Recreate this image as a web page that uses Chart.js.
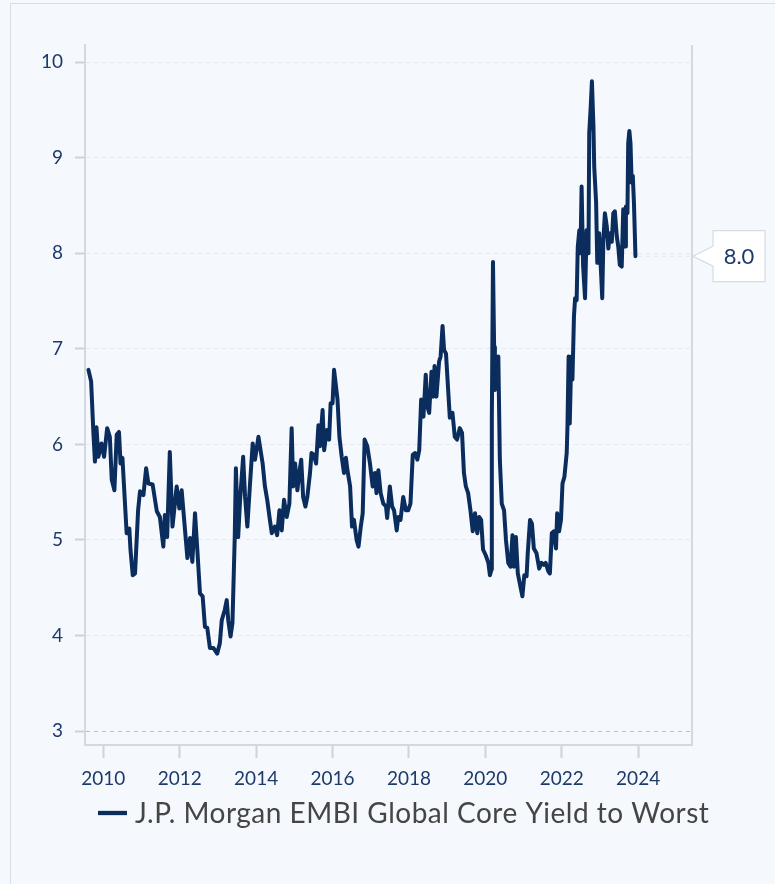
<!DOCTYPE html>
<html><head><meta charset="utf-8">
<script src="https://cdn.jsdelivr.net/npm/chart.js@4.4.1/dist/chart.umd.min.js"></script>
<style>
html,body{margin:0;padding:0;background:#f5f9fd;width:775px;height:884px;overflow:hidden}
#frame{position:absolute;left:10px;top:3px;width:800px;height:900px;border:1px solid #d8dee6;box-sizing:border-box}
#wrap{position:absolute;left:0;top:0;width:775px;height:884px}
</style></head><body>
<div id="frame"></div>
<div id="wrap"><canvas id="c" width="775" height="884"></canvas></div>
<script>
const seriesLabel = 'J.P. Morgan EMBI Global Core Yield to Worst';
const xTickValues = [2010, 2012, 2014, 2016, 2018, 2020, 2022, 2024];
const yTickValues = [3, 4, 5, 6, 7, 8, 9, 10];
const years = [
2009.61,2009.68,2009.74,2009.78,2009.82,2009.87,2009.95,2010.02,2010.10,2010.17,2010.22,2010.29,2010.35,2010.41,2010.45,2010.50,
2010.61,2010.68,2010.71,2010.77,2010.83,2010.91,2010.96,2011.05,2011.12,2011.18,2011.29,2011.40,2011.48,2011.57,2011.61,2011.67,
2011.74,2011.81,2011.92,2011.99,2012.05,2012.16,2012.20,2012.27,2012.33,2012.40,2012.46,2012.53,2012.60,2012.66,2012.72,2012.79,
2012.88,2012.98,2013.05,2013.10,2013.18,2013.23,2013.27,2013.33,2013.38,2013.44,2013.47,2013.53,2013.58,2013.66,2013.71,2013.77,
2013.84,2013.91,2013.97,2014.06,
2014.17,2014.23,2014.29,2014.36,2014.41,2014.49,2014.55,2014.61,2014.67,2014.73,2014.80,2014.87,2014.93,2014.97,2015.02,2015.08,
2015.13,2015.18,2015.23,2015.29,2015.34,2015.41,2015.45,2015.51,2015.57,2015.63,2015.67,2015.74,2015.78,2015.85,2015.91,2015.95,
2016.00,2016.04,2016.09,2016.13,2016.18,2016.24,2016.30,2016.35,2016.39,2016.46,2016.51,2016.56,2016.63,2016.68,2016.74,2016.79,
2016.84,2016.91,2016.98,2017.05,2017.11,2017.15,2017.20,2017.26,2017.33,2017.40,2017.43,2017.50,2017.56,2017.61,2017.68,2017.72,
2017.78,2017.85,2017.92,2017.98,2018.04,2018.10,2018.16,2018.22,2018.27,2018.32,2018.38,2018.44,2018.48,2018.53,2018.59,2018.64,
2018.67,2018.72,2018.79,2018.83,2018.88,2018.92,2018.97,
2019.03,2019.07,2019.14,2019.20,2019.26,2019.33,2019.39,2019.44,2019.49,2019.55,2019.61,2019.67,2019.73,2019.79,2019.84,2019.89,
2019.94,2020.01,2020.08,2020.12,2020.16,2020.17,2020.20,2020.23,2020.25,2020.29,2020.34,2020.38,2020.43,2020.49,2020.54,2020.60,
2020.66,2020.71,2020.75,2020.80,2020.85,2020.92,2020.97,2021.02,2021.08,2021.11,2021.17,2021.22,2021.27,2021.34,2021.41,2021.47,
2021.53,2021.58,2021.65,2021.69,2021.74,2021.79,2021.85,2021.88,2021.93,2021.98,2022.02,2022.07,2022.13,2022.15,2022.18,2022.21,
2022.25,2022.28,
2022.32,2022.35,2022.39,2022.42,2022.46,2022.49,2022.52,2022.56,2022.61,2022.65,2022.70,2022.72,2022.76,2022.79,2022.83,2022.85,
2022.90,2022.93,2022.98,2023.03,2023.06,2023.09,2023.13,2023.18,2023.22,2023.26,2023.31,2023.35,2023.39,2023.44,2023.48,2023.52,
2023.57,2023.61,2023.66,2023.68,2023.72,2023.74,2023.77,2023.80,2023.83,2023.86,2023.89,2023.93
];
const yields = [
6.78,6.66,6.12,5.82,6.18,5.87,6.01,5.87,6.17,6.08,5.63,5.52,6.10,6.13,5.80,5.86,
5.07,5.12,4.90,4.63,4.65,5.31,5.51,5.47,5.75,5.59,5.58,5.30,5.24,4.93,5.26,5.03,
5.92,5.14,5.56,5.33,5.52,5.00,4.81,5.02,4.77,5.28,4.90,4.44,4.41,4.09,4.08,3.87,
3.87,3.81,3.92,4.16,4.27,4.37,4.16,3.99,4.13,5.03,5.75,5.03,5.42,5.87,5.45,5.14,
5.59,6.01,5.84,6.08,
5.80,5.56,5.42,5.21,5.07,5.14,5.05,5.31,5.10,5.42,5.24,5.38,6.17,5.56,5.80,5.52,
5.70,5.84,5.45,5.35,5.45,5.70,5.91,5.89,5.80,6.20,5.98,6.36,5.94,6.15,6.05,6.43,
6.43,6.78,6.61,6.47,6.08,5.87,5.70,5.86,5.73,5.56,5.14,5.21,5.00,4.93,5.14,5.28,
6.05,5.98,5.80,5.56,5.70,5.49,5.73,5.49,5.38,5.35,5.23,5.56,5.35,5.31,5.10,5.24,
5.21,5.45,5.31,5.31,5.38,5.89,5.91,5.84,5.94,6.47,6.29,6.73,6.40,6.33,6.76,6.50,
6.82,6.50,6.87,6.92,7.24,6.99,6.95,
6.55,6.28,6.33,6.08,6.05,6.17,6.12,5.70,5.56,5.49,5.31,5.09,5.28,5.07,5.24,5.21,
4.90,4.84,4.76,4.63,4.69,6.26,7.91,7.02,6.57,6.88,6.92,5.84,5.38,5.31,5.00,4.76,
4.72,5.05,4.72,5.03,4.65,4.51,4.41,4.63,4.62,4.86,5.21,5.17,4.91,4.86,4.70,4.76,
4.74,4.76,4.67,4.65,5.07,5.09,4.91,5.28,5.09,5.21,5.59,5.66,5.91,6.19,6.92,6.22,
6.92,6.68,
7.34,7.53,7.51,8.07,8.24,8.00,8.70,7.86,7.53,8.24,8.00,9.26,9.54,9.80,9.33,8.91,
8.53,7.90,8.21,7.79,7.53,8.14,8.42,8.28,8.05,8.21,8.12,8.42,8.44,8.18,8.07,7.88,
7.86,8.46,8.07,8.49,8.42,9.15,9.28,9.15,8.74,8.81,8.53,7.97
];

const NAVY = '#0b2d5e';
const TICKCOL = '#1d3a6a';
const FONT = 'Lato, "Noto Sans", sans-serif';

const extras = {
  id: 'extras',
  afterDatasetsDraw(chart) {
    const ctx = chart.ctx, a = chart.chartArea;
    ctx.save();
    ctx.strokeStyle = '#d3d9e0'; ctx.lineWidth = 2;
    ctx.beginPath(); ctx.moveTo(a.right, a.top); ctx.lineTo(a.right, a.bottom); ctx.stroke();
    const meta = chart.getDatasetMeta(0);
    const last = meta.data[meta.data.length - 1];
    const v = yields[yields.length - 1];
    const y = chart.scales.y.getPixelForValue(v);
    ctx.strokeStyle = '#dde3ea'; ctx.lineWidth = 1; ctx.setLineDash([4, 4]);
    ctx.beginPath(); ctx.moveTo(last.x + 3, y); ctx.lineTo(a.right, y); ctx.stroke();
    ctx.setLineDash([]);
    const tipX = a.right + 1, bx = a.right + 21, bw = 52, bh = 51;
    ctx.beginPath();
    ctx.moveTo(tipX, y);
    ctx.lineTo(bx, y - 10);
    ctx.lineTo(bx, y - bh / 2);
    ctx.lineTo(bx + bw, y - bh / 2);
    ctx.lineTo(bx + bw, y + bh / 2);
    ctx.lineTo(bx, y + bh / 2);
    ctx.lineTo(bx, y + 10);
    ctx.closePath();
    ctx.fillStyle = '#ffffff'; ctx.fill();
    ctx.strokeStyle = '#d3dbe4'; ctx.lineWidth = 1.2; ctx.stroke();
    ctx.fillStyle = TICKCOL; ctx.font = '22px ' + FONT;
    ctx.textAlign = 'center'; ctx.textBaseline = 'middle';
    ctx.fillText(v.toFixed(1), bx + bw / 2, y + 1);
    ctx.restore();
  },
  afterDraw(chart) {
    const ctx = chart.ctx;
    ctx.save();
    ctx.strokeStyle = NAVY; ctx.lineWidth = 4.3;
    ctx.beginPath(); ctx.moveTo(98, 813); ctx.lineTo(127, 813); ctx.stroke();
    ctx.fillStyle = '#454545'; ctx.font = '28px ' + FONT;
    try { ctx.letterSpacing = '0.5px'; } catch (e) {}
    ctx.textAlign = 'left'; ctx.textBaseline = 'middle';
    ctx.fillText(chart.data.datasets[0].label, 135, 814);
    ctx.restore();
  }
};

new Chart(document.getElementById('c'), {
  type: 'line',
  data: {
    datasets: [{
      label: seriesLabel,
      data: years.map((x, i) => ({x: x, y: yields[i]})),
      borderColor: NAVY,
      backgroundColor: NAVY,
      borderWidth: 4,
      pointRadius: 0,
      tension: 0,
      borderJoinStyle: 'round',
      borderCapStyle: 'round'
    }]
  },
  options: {
    responsive: false,
    animation: false,
    devicePixelRatio: 1,
    layout: {padding: {left: 0, top: 45, right: 83, bottom: 0}},
    plugins: {legend: {display: false}, tooltip: {enabled: false}},
    scales: {
      x: {
        type: 'linear',
        min: 2009.52, max: 2025.41,
        afterBuildTicks: s => { s.ticks = xTickValues.map(v => ({value: v})); },
        afterFit: s => { s.height = 139; },
        grid: {display: true, drawOnChartArea: false, drawTicks: true, tickLength: 13, tickColor: '#ccd3db', tickWidth: 2},
        border: {display: true, color: '#d3d9e0', width: 2},
        ticks: {color: TICKCOL, font: {family: FONT, size: 19}, padding: 9, maxRotation: 0, autoSkip: false,
          callback: v => String(v)}
      },
      y: {
        type: 'linear',
        min: 2.854, max: 10.18,
        afterBuildTicks: s => { s.ticks = yTickValues.map(v => ({value: v})); },
        afterFit: s => { s.width = 85; },
        grid: {
          display: true, drawOnChartArea: true, drawTicks: true, tickLength: 10,
          color: c => (c.tick && c.tick.value === 3) ? '#b9c0c9' : '#e4e9ef',
          lineWidth: 1, tickColor: '#ccd3db', tickWidth: 2, tickBorderDash: []
        },
        border: {display: true, color: '#d3d9e0', width: 2, dash: [4, 4]},
        ticks: {color: TICKCOL, font: {family: FONT, size: 19}, padding: 12, autoSkip: false,
          callback: v => String(v)}
      }
    }
  },
  plugins: [extras]
});
</script>
</body></html>
